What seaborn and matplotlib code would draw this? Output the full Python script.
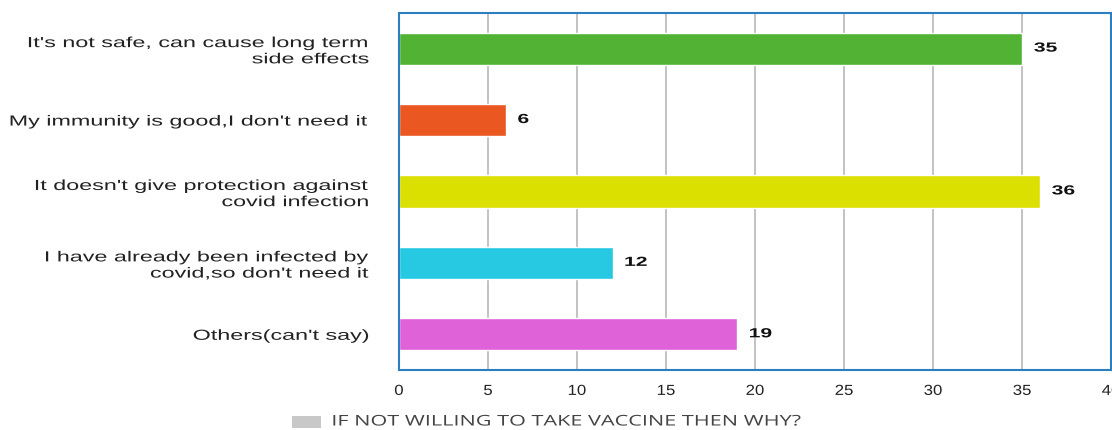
import matplotlib.pyplot as plt
import seaborn as sns
import pandas as pd
from matplotlib.patches import Rectangle
from matplotlib.patheffects import AbstractPathEffect
from matplotlib.transforms import Affine2D

# Survey answers
reasons = [
    "It's not safe, can cause long term\nside effects",
    "My immunity is good,I don't need it",
    "It doesn't give protection against\ncovid infection",
    "I have already been infected by\ncovid,so don't need it",
    "Others(can't say)",
]
counts = [35, 6, 36, 12, 19]
bar_colors = ["#52b234", "#ea5720", "#dce000", "#27c9e2", "#e062d9"]
x_ticks = [0, 5, 10, 15, 20, 25, 30, 35, 40]
legend_label = "IF NOT WILLING TO TAKE VACCINE THEN WHY?"


# the source picture has horizontally stretched text, so widen glyphs a bit
class Stretch(AbstractPathEffect):
    def __init__(self, sx, anchor='left'):
        super().__init__()
        self.sx = sx
        self.anchor = anchor

    def draw_path(self, renderer, gc, tpath, affine, rgbFace=None):
        ext = tpath.get_extents()
        if self.anchor == 'right':
            x0 = ext.x1
        elif self.anchor == 'center':
            x0 = (ext.x0 + ext.x1) / 2
        else:
            x0 = ext.x0
        t = Affine2D().translate(-x0, 0).scale(self.sx, 1).translate(x0, 0)
        renderer.draw_path(gc, tpath, t + affine, rgbFace)


df = pd.DataFrame({'reason': reasons, 'count': counts})

sns.set_style('white')
plt.rcParams['font.family'] = ['Liberation Sans', 'DejaVu Sans']

fig = plt.figure(figsize=(11.12, 4.3), dpi=100)
ax = fig.add_axes([0.3588, 0.1395, 0.6404, 0.8305])

sns.barplot(data=df, x='count', y='reason', hue='reason', palette=bar_colors,
            orient='h', width=0.45, legend=False, saturation=1, ax=ax)

# value labels next to each bar
for i, v in enumerate(counts):
    ax.text(v + 0.67, i, str(v), va='center', ha='left',
            fontsize=9.5, fontweight='bold', color='#111111',
            path_effects=[Stretch(1.6, 'left')])

ax.set_xlim(0, 40)
ax.set_ylim(4.5, -0.5)
ax.set_xticks(x_ticks)
ax.set_xticklabels([str(t) for t in x_ticks], fontsize=10.5, color='#222222')
for lbl in ax.get_xticklabels():
    lbl.set_path_effects([Stretch(1.15, 'center')])
ax.tick_params(axis='x', length=5, color='#bbbbbb', width=1.2, pad=5)
ax.xaxis.grid(True, color='#bdbdbd', linewidth=1.3)
ax.set_axisbelow(True)

# category boundary ticks, labels centred
ax.set_yticks([y - 0.5 for y in range(len(reasons) + 1)], minor=True)
ax.tick_params(axis='y', which='minor', length=19, color='#cccccc', width=1)
ax.tick_params(axis='y', which='major', length=0, pad=21)
ax.set_yticklabels(reasons, fontsize=10.5, color='#222222')
for lbl in ax.get_yticklabels():
    lbl.set_horizontalalignment('right')
    lbl.set_multialignment('right')
    lbl.set_path_effects([Stretch(1.6, 'right')])

ax.set_xlabel('')
ax.set_ylabel('')
for s in ax.spines.values():
    s.set_visible(True)
    s.set_color('#2c7fbf')
    s.set_linewidth(1.5)

# legend drawn by hand so the stretched text starts at the right place
fig.patches.append(Rectangle((292 / 1112, 2 / 430), 29 / 1112, 12 / 430,
                             transform=fig.transFigure, facecolor='#c8c8c8',
                             edgecolor='none'))
fig.text(332 / 1112, 8 / 430, legend_label, ha='left', va='center',
         fontsize=10.6, family='Open Sans', color='#444444',
         path_effects=[Stretch(1.47, 'left')])

fig.savefig('out.png', dpi=100)
plt.close(fig)
